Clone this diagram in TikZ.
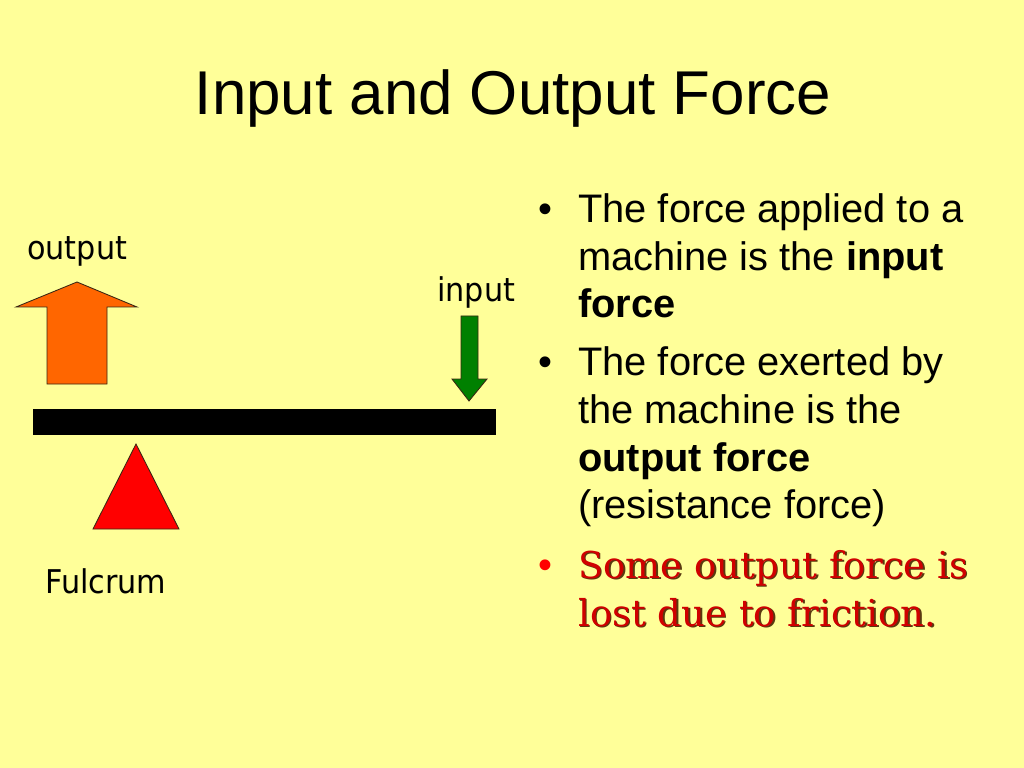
\documentclass[tikz,border=0pt]{standalone}
\usepackage{fontspec}
\setmainfont{Liberation Sans}
\newfontfamily\titlefont{Liberation Sans}
\newfontfamily\labelfont[FakeStretch=0.925]{DejaVu Sans}
\newfontfamily\seriffont{DejaVu Serif}
\definecolor{bg}{HTML}{FFFF99}
\definecolor{orangeA}{HTML}{FF6600}
\definecolor{greenA}{HTML}{008000}
\definecolor{redA}{HTML}{FF0000}
\definecolor{redtext}{HTML}{D00000}
\definecolor{shadowc}{HTML}{5A3A10}
\begin{document}
\begin{tikzpicture}[x=0.703125pt,y=-0.703125pt,
  txt/.style={inner sep=0pt,anchor=base west},
  body/.style={txt,font=\fontsize{28}{33.6}\selectfont},
  lbl/.style={txt,font=\labelfont\fontsize{23}{27}\selectfont},
  redtxt/.style={txt,font=\seriffont\fontsize{26}{31}\selectfont,text=redtext},
  redsh/.style={txt,font=\seriffont\fontsize{26}{31}\selectfont,text=shadowc},
  outl/.style={draw=black!70!brown,line width=0.6pt}]
\fill[bg] (0,0) rectangle (1024,768);
\useasboundingbox (0,0) rectangle (1024,768);
% title
\node[inner sep=0pt,anchor=base,font=\titlefont\fontsize{43.5}{50}\selectfont] (title) at (513,115) {Input and Output Force};
% lever
\fill[black] (33,409) rectangle (496,435);
% fulcrum
\filldraw[outl,fill=redA] (136,444) -- (179,529) -- (93,529) -- cycle;
% output arrow
\filldraw[outl,fill=orangeA] (77,282) -- (137,307) -- (107,307) -- (107,384) -- (47,384) -- (47,307) -- (16,307) -- cycle;
% input arrow
\filldraw[outl,fill=greenA] (461,316) -- (478,316) -- (478,379) -- (487,379) -- (469,401) -- (452,379) -- (461,379) -- cycle;
% labels
\node[lbl] (lout) at (27,260) {output};
\node[lbl] (lin) at (437,302) {input};
\node[lbl] (lful) at (45,593) {Fulcrum};
% bullets
\node[body] (b1) at (538,223) {\textbullet};
\node[body] (l1) at (578,223) {The force applied to a};
\node[body] (l2) at (578,271) {machine is the \textbf{input}};
\node[body] (l3) at (578,318) {\textbf{force}};
\node[body] (b2) at (538,375) {\textbullet};
\node[body] (l4) at (578,375) {The force exerted by};
\node[body] (l5) at (578,423) {the machine is the};
\node[body] (l6) at (578,471) {\textbf{output force}};
\node[body] (l7) at (578,518) {(resistance force)};
\node[body,text=redA] (b3) at (538,578) {\textbullet};
\node[redsh] (s8) at (579.5,579.5) {Some output force is};
\node[redtxt] (l8) at (578,578) {Some output force is};
\node[redsh] (s9) at (579.5,627.5) {lost due to friction.};
\node[redtxt] (l9) at (578,626) {lost due to friction.};
\end{tikzpicture}
\end{document}
